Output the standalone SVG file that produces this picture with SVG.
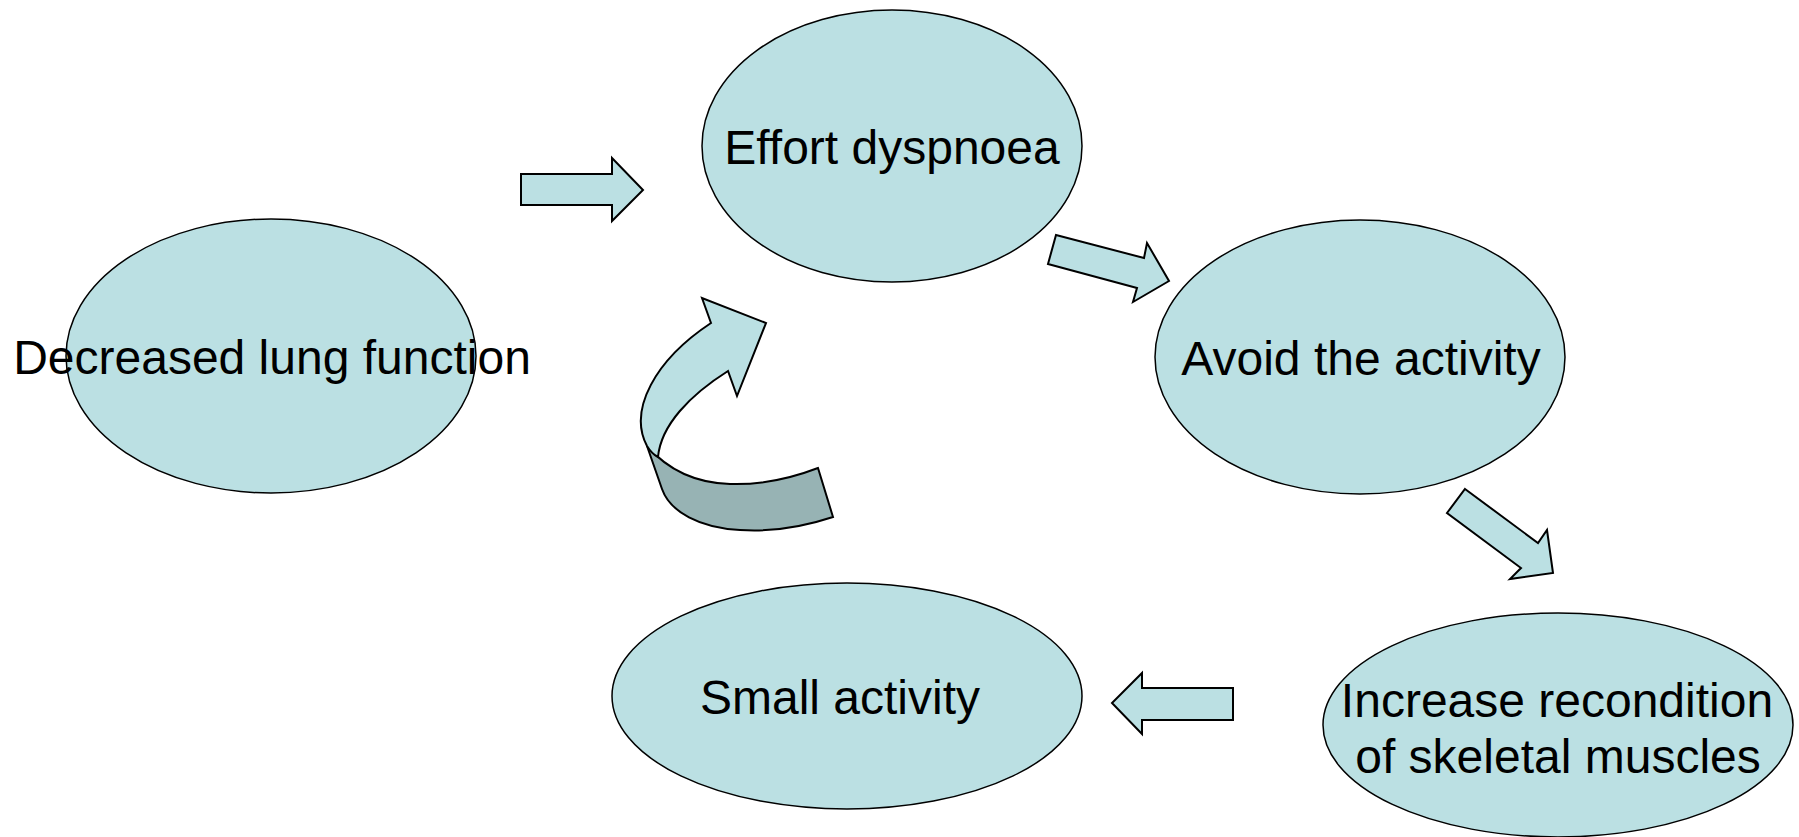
<svg xmlns="http://www.w3.org/2000/svg" width="1799" height="837" viewBox="0 0 1799 837">
<style>
.node{fill:#BBE0E3;stroke:#000;stroke-width:1.5}
.arrow{fill:#BBE0E3;stroke:#000;stroke-width:2;stroke-linejoin:miter}
.dark{fill:#97B3B4;stroke:#000;stroke-width:2}
.lbl{font-family:"Liberation Sans",Arial,sans-serif;font-size:48px;fill:#000;text-anchor:middle}
</style>
<rect width="1799" height="837" fill="#fff"/>
<g id="node-decreased">
<ellipse class="node" cx="271" cy="356" rx="205" ry="137"/>
<text class="lbl" x="272" y="374">Decreased lung function</text>
</g>
<g id="node-effort">
<ellipse class="node" cx="892" cy="146" rx="190" ry="136"/>
<text class="lbl" x="892" y="164">Effort dyspnoea</text>
</g>
<g id="node-avoid">
<ellipse class="node" cx="1360" cy="357" rx="205" ry="137"/>
<text class="lbl" x="1361" y="375">Avoid the activity</text>
</g>
<g id="node-increase">
<ellipse class="node" cx="1558" cy="725" rx="235" ry="112"/>
<text class="lbl" x="1557" y="717">Increase recondition</text>
<text class="lbl" x="1558" y="773">of skeletal muscles</text>
</g>
<g id="node-small">
<ellipse class="node" cx="847" cy="696" rx="235" ry="113"/>
<text class="lbl" x="840" y="714">Small activity</text>
</g>
<g id="connectors">
<polygon class="arrow" points="521,174 612,174 612,158 643,190 612,221 612,205 521,205"/>
<polygon class="arrow" points="1056,235 1144,258 1147,243 1169,281 1133,302 1137,288 1048,264"/>
<polygon class="arrow" points="1465,489 1538,543 1547,530 1553,573 1510,579 1521,568 1447,513"/>
<polygon class="arrow" points="1233,688 1142,688 1142,673 1112,703 1142,734 1142,720 1233,720"/>
<path class="dark" d="M647,446 C668,470 695,483 730,484 C762,485 792,478 818,468 L833,517 C800,528 770,532 740,530 C700,528 670,512 662,489 Z"/>
<path class="arrow" d="M711,323 L702,298 L766,323 L737,396 L728,371 C690,395 661,425 658,457 C654,455 650,451 647,446 C628,410 655,360 711,323 Z"/>
</g>
</svg>
